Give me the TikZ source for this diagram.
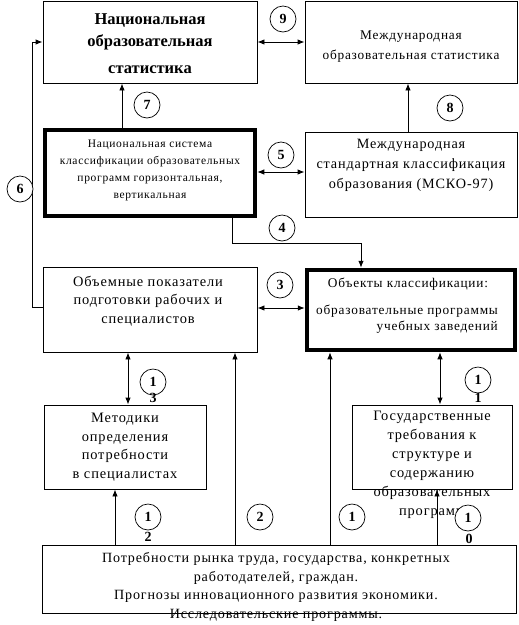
\documentclass[tikz,border=0pt]{standalone}
\usepackage{fontspec}
\setmainfont{Liberation Serif}
\newfontfamily\boxfont[LetterSpace=6]{Liberation Serif}
\usetikzlibrary{arrows.meta,fit}
\tikzset{
  bx/.style={draw, line width=0.9pt, inner sep=0pt, fill=white},
  thickbx/.style={draw, line width=4.5pt, inner sep=0pt, fill=white},
  txt/.style={align=center, inner sep=0pt, font=\boxfont\fontsize{13.3}{17.5}\selectfont},
  conn/.style={line width=0.9pt},
  tip/.style={-{Latex[length=7pt,width=5.5pt]}},
  dtip/.style={{Latex[length=7pt,width=5.5pt]}-{Latex[length=7pt,width=5.5pt]}},
  num/.style={circle, draw, line width=0.7pt, fill=white, minimum size=26pt, inner sep=0pt, font=\bfseries\fontsize{14}{14}\selectfont},
  sub/.style={inner sep=0pt, font=\bfseries\fontsize{14}{14}\selectfont},
}
\begin{document}
\begin{tikzpicture}[x=1pt,y=-1pt]
\useasboundingbox[fill=white] (0,0) rectangle (519,625);
% boxes
\node[bx, fit={(43,1)(257,83)}] (nat) {};
\node[bx, fit={(305,1)(517,83)}] (intl) {};
\node[thickbx, fit={(45,130)(255,216)}] (nsk) {};
\node[bx, fit={(305,132)(517,217)}] (mcko) {};
\node[bx, fit={(43,267)(257,352)}] (vol) {};
\node[thickbx, fit={(307,270)(515,350)}] (obj) {};
\node[bx, fit={(44,405)(206,489)}] (meth) {};
\node[bx, fit={(352,405)(512,489)}] (gos) {};
\node[bx, fit={(42,545)(516,613)}] (bot) {};
% texts
\node[txt, font=\bfseries\fontsize{16.5}{22}\selectfont] (natT) at (150,44) {Национальная\\образовательная\\[5pt]статистика};
\node[txt, anchor=base] (intlT1) at (411,39) {Международная};
\node[txt, anchor=base] (intlT2) at (411,59) {образовательная статистика};
\node[txt, font=\boxfont\fontsize{11.5}{17}\selectfont] (nskT) at (150,170) {Национальная система\\классификации образовательных\\программ горизонтальная,\\вертикальная};
\node[txt, font=\boxfont\fontsize{14.2}{20}\selectfont] (mckoT) at (411,165) {Международная\\стандартная классификация\\образования (МСКО-97)};
\node[txt, font=\boxfont\fontsize{14.4}{18.5}\selectfont] (volT) at (148,301) {Объемные показатели\\подготовки рабочих и\\специалистов};
\node[txt, anchor=base] (objT1) at (408,287) {Объекты классификации:};
\node[txt, anchor=base west] (objT2) at (316,314) {образовательные программы};
\node[txt, anchor=base east] (objT3) at (498,330) {учебных заведений};
\node[txt, font=\boxfont\fontsize{14.4}{18.5}\selectfont] (methT) at (125,447) {Методики\\определения\\потребности\\в специалистах};
\node[txt, font=\boxfont\fontsize{14.4}{19}\selectfont, anchor=north] (gosT) at (432,411) {Государственные\\требования к\\структуре и\\содержанию\\образовательных\\программ};
\node[txt, font=\boxfont\fontsize{14.1}{18.7}\selectfont, anchor=north] (botT) at (276,552) {Потребности рынка труда, государства, конкретных\\работодателей, граждан.\\Прогнозы инновационного развития экономики.\\Исследовательские программы.};
% connectors
\draw[conn, dtip] (nat) -- (intl);
\draw[conn, tip] (mcko.north -| 408,0) -- (intl.south -| 408,0);
\draw[conn, tip] (nsk.north -| 122,0) -- (nat.south -| 122,0);
\draw[conn, dtip] (nsk.east |- 0,172) -- (mcko.west |- 0,172);
\draw[conn, tip] (vol.west |- 0,307) -- (32,307) |- (nat.west);
\draw[conn, tip] (nsk.south -| 232,0) -- (232,243) -| (obj.north -| 361,0);
\draw[conn, dtip] (vol.east |- 0,308) -- (obj.west |- 0,308);
\draw[conn, dtip] (vol.south -| 128,0) -- (meth.north -| 128,0);
\draw[conn, tip] (bot.north -| 115,0) -- (meth.south -| 115,0);
\draw[conn, tip] (bot.north -| 235,0) -- (vol.south -| 235,0);
\draw[conn, tip] (bot.north -| 330,0) -- (obj.south -| 330,0);
\draw[conn, dtip] (obj.south -| 440,0) -- (gos.north -| 440,0);
\draw[conn, tip] (bot.north -| 437,0) -- (gos.south -| 437,0);
% numbers
\node[num] (n9) at (283,19) {9};
\node[num] (n8) at (450,108) {8};
\node[num] (n7) at (147,105) {7};
\node[num] (n6) at (20,189) {6};
\node[num] (n5) at (281,155) {5};
\node[num] (n4) at (282,228) {4};
\node[num] (n3) at (280,285) {3};
\node[num] (n13) at (153,382) {1};
\node[sub] (n13b) at (153,398) {3};
\node[num] (n11) at (478,380) {1};
\node[sub] (n11b) at (478,398) {1};
\node[num] (n12) at (148,517) {1};
\node[sub] (n12b) at (148,537) {2};
\node[num] (n2) at (260,517) {2};
\node[num] (n1) at (352,517) {1};
\node[num] (n10) at (468,518) {1};
\node[sub] (n10b) at (469,539) {0};
\end{tikzpicture}
\end{document}
